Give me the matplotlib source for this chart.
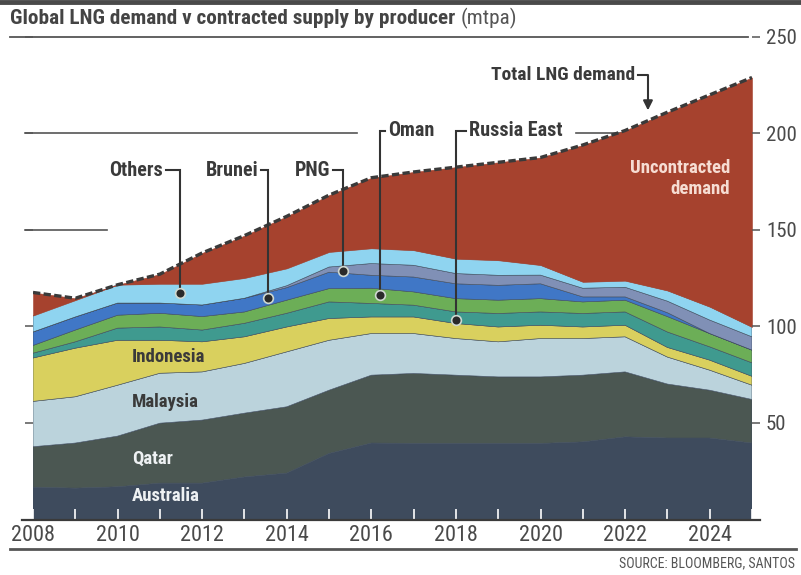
import matplotlib
matplotlib.use("Agg")
import matplotlib.pyplot as plt
import numpy as np
from matplotlib.lines import Line2D

FONT = ['Liberation Sans Narrow', 'Roboto Condensed', 'DejaVu Sans Condensed', 'DejaVu Sans']
plt.rcParams['font.family'] = FONT

years = [2008, 2009, 2010, 2011, 2012, 2013, 2014, 2015, 2016, 2017, 2018, 2019, 2020, 2021, 2022, 2023, 2024, 2025]

australia = [16.5, 16.0, 16.7, 18.6, 18.6, 21.8, 23.8, 34.0, 39.4, 39.2, 39.2, 39.2, 39.2, 40.0, 42.6, 42.0, 42.0, 39.4]
qatar = [21.0, 23.4, 26.3, 31.1, 32.7, 33.1, 34.4, 32.8, 35.2, 36.3, 35.4, 34.5, 34.5, 34.6, 33.7, 28.0, 24.8, 22.6]
malaysia = [23.5, 24.0, 26.4, 25.9, 25.0, 25.8, 28.5, 25.9, 21.6, 20.7, 19.0, 18.2, 19.9, 19.0, 18.2, 14.0, 10.4, 7.4]
indonesia = [22.5, 25.2, 23.3, 17.1, 15.6, 13.8, 12.9, 11.3, 8.6, 8.6, 7.8, 7.7, 6.9, 6.0, 6.0, 5.0, 5.2, 4.6]
russia_east = [2.5, 3.3, 6.3, 6.9, 6.1, 7.0, 7.1, 8.6, 7.0, 6.1, 6.0, 7.0, 6.9, 7.0, 6.9, 8.0, 6.9, 7.0]
oman = [4.0, 6.1, 6.7, 7.1, 7.0, 5.9, 6.8, 6.9, 7.9, 6.9, 6.9, 6.9, 6.9, 6.0, 6.1, 8.0, 6.9, 6.6]
brunei = [7.0, 6.8, 6.3, 5.3, 6.0, 7.1, 6.5, 8.5, 6.7, 7.7, 7.7, 7.7, 7.7, 2.6, 1.7, 2.0, 0.0, 0.0]
png = [0.0, 0.0, 0.0, 0.0, 0.0, 0.0, 1.0, 2.7, 6.1, 6.1, 5.3, 5.2, 4.5, 4.5, 5.0, 6.0, 7.0, 6.9]
others = [8.5, 8.7, 9.5, 10.0, 11.0, 10.5, 9.0, 7.8, 7.9, 7.8, 7.7, 7.8, 5.2, 3.3, 3.4, 5.5, 6.9, 5.1]
total_demand = [117.5, 114.5, 121.5, 127.0, 138.0, 147.0, 157.0, 168.0, 177.0, 180.0, 182.5, 185.0, 187.5, 194.0, 201.5, 211.0, 220.0, 229.0]

layer_names = ['Australia', 'Qatar', 'Malaysia', 'Indonesia', 'Russia East', 'Oman', 'Brunei', 'PNG', 'Others']
layer_colors = ['#3e4b5d', '#4b5752', '#bbd3dc', '#d9d05e', '#3f9a8f', '#6cae57', '#4077c6', '#8090b6', '#8fd4f0']
uncontracted_color = '#a6422e'

y_ticks = [50, 100, 150, 200, 250]
x_label_years = [2008, 2010, 2012, 2014, 2016, 2018, 2020, 2022, 2024]

W, H = 801, 575
fig = plt.figure(figsize=(W / 100, H / 100), dpi=100)
ax = fig.add_axes([33 / W, 1 - 519 / H, (752 - 33) / W, (519 - 37) / H])

x = np.array(years, dtype=float)
stack = np.vstack([australia, qatar, malaysia, indonesia, russia_east, oman, brunei, png, others])
ax.stackplot(x, stack, colors=layer_colors, linewidth=0.4, edgecolors=layer_colors, zorder=2)
top = stack.sum(axis=0)
dem = np.array(total_demand)
ax.fill_between(x, top, dem, where=dem >= top, interpolate=True, color=uncontracted_color, lw=0.4, zorder=2)
ax.plot(x, dem, color='#3a3a3a', lw=2.4, ls=(0, (2.2, 1.0)), zorder=3)

ax.set_xlim(2008, 2025)
ax.set_ylim(0, 250)

for s in ax.spines.values():
    s.set_visible(False)

# gridline segments (decoration)
gc = '#555555'
ax.plot([2007.46, 2024.9], [250, 250], color=gc, lw=1.3, clip_on=False, zorder=1)
ax.plot([2007.81, 2015.66], [200, 200], color=gc, lw=1.2, clip_on=False, zorder=1)
ax.plot([2020.85, 2022.3], [200, 200], color=gc, lw=1.2, clip_on=False, zorder=1)
ax.plot([2007.81, 2009.75], [150, 150], color=gc, lw=1.2, clip_on=False, zorder=1)

# axes ticks
ax.yaxis.tick_right()
ax.set_yticks(y_ticks)
ax.set_yticklabels([str(v) for v in y_ticks])
ax.tick_params(axis='y', which='both', left=True, right=True, direction='out', length=6,
               width=1.1, color='#555555', labelsize=15, labelcolor='#4a4a4a', pad=4)
ax.set_xticks(x_label_years)
ax.set_xticklabels([str(v) for v in x_label_years])
ax.set_xticks([yv for yv in years if yv not in x_label_years], minor=True)
ax.tick_params(axis='x', which='both', direction='in', length=7, width=1.2, color='white',
               labelsize=16, labelcolor='#4a4a4a', pad=4)
for t in ax.xaxis.get_major_ticks() + ax.xaxis.get_minor_ticks():
    t.tick1line.set_zorder(5)
ax.set_axisbelow(False)

# bottom axis line
fig.add_artist(Line2D([22 / W, 760 / W], [1 - 519.5 / H, 1 - 519.5 / H], color='#3a3a3a', lw=1.6))
# top rule
fig.add_artist(Line2D([0, 1], [1 - 2 / H, 1 - 2 / H], color='#4a4a4a', lw=3.5))
# bottom rule
fig.add_artist(Line2D([10 / W, 796 / W], [1 - 549 / H, 1 - 549 / H], color='#555555', lw=2.0))

# title
t1 = fig.text(10 / W, 1 - 18 / H, 'Global LNG demand v contracted supply by producer', fontsize=15.3,
              fontweight='bold', color='#444444', va='center', ha='left')
fig.canvas.draw()
bb = t1.get_window_extent()
fig.text((bb.x1 + 5) / W, 1 - 18 / H, '(mtpa)', fontsize=15.3, color='#555555', va='center', ha='left')

fig.text(795 / W, 1 - 563 / H, 'SOURCE: BLOOMBERG, SANTOS', fontsize=10, color='#555555', ha='right', va='center')

# in-area labels
lab_kw = dict(fontsize=13.5, fontweight='bold', va='center', ha='left', zorder=6)
ax.text(2010.34, 84, 'Indonesia', color='#3a3a3a', **lab_kw)
ax.text(2010.34, 60.6, 'Malaysia', color='#3a3a3a', **lab_kw)
ax.text(2010.34, 31, 'Qatar', color='#eef1f3', **lab_kw)
ax.text(2010.34, 12, 'Australia', color='#eef1f3', **lab_kw)
ax.text(2024.48, 176.5, 'Uncontracted\ndemand', color='#f6ddd3', fontsize=13.5, fontweight='bold',
        ha='right', va='center', linespacing=1.25, multialignment='right', zorder=6)

# connector annotations
lc = '#333333'
ann_kw = dict(fontsize=14.5, fontweight='bold', color='#3a3a3a', va='center', zorder=7)

def left_label(text, tx, ty, cx, dy):
    ax.text(tx, ty, text, ha='right', **ann_kw)
    ax.plot([tx + 0.07, cx, cx], [ty, ty, dy], color=lc, lw=1.5, zorder=6, solid_joinstyle='miter')
    ax.plot([cx], [dy], 'o', ms=7, color='#2a2a2a', mec='#cfd8d0', mew=1.2, zorder=7)

def right_label(text, tx, ty, cx, dy):
    ax.text(tx, ty, text, ha='left', **ann_kw)
    ax.plot([tx - 0.07, cx, cx], [ty, ty, dy], color=lc, lw=1.5, zorder=6, solid_joinstyle='miter')
    ax.plot([cx], [dy], 'o', ms=7, color='#2a2a2a', mec='#cfd8d0', mew=1.2, zorder=7)

left_label('Others', 2011.07, 180.8, 2011.48, 117)
left_label('Brunei', 2013.32, 180.8, 2013.56, 114.5)
left_label('PNG', 2015.02, 180.8, 2015.33, 128.5)
right_label('Oman', 2016.40, 201.5, 2016.2, 116)
right_label('Russia East', 2018.30, 201.5, 2018.0, 103)

# total demand
ax.text(2022.23, 230.5, 'Total LNG demand', ha='right', fontsize=14, fontweight='bold', color='#3a3a3a',
        va='center', zorder=7)
ax.plot([2022.30, 2022.54, 2022.54], [230.5, 230.5, 216], color=lc, lw=1.5, zorder=6, clip_on=False)
ax.annotate('', xy=(2022.54, 210.5), xytext=(2022.54, 217),
            arrowprops=dict(arrowstyle='-|>', color=lc, lw=1.5, mutation_scale=14), zorder=7)

fig.savefig('out.png', dpi=100, facecolor='white')
